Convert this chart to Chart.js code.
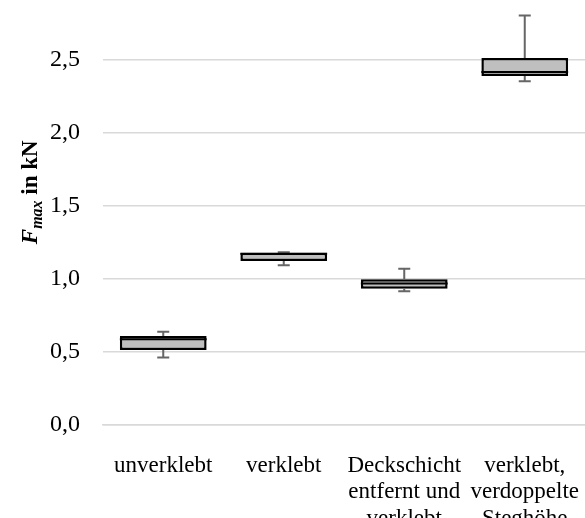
<!DOCTYPE html>
<html>
<head>
<meta charset="utf-8">
<script src="https://cdn.jsdelivr.net/npm/chart.js@4"></script>
<style>
  body { margin: 0; background: #fff; }
</style>
</head>
<body>
<canvas id="myChart" width="585" height="518"></canvas>
<script>
// box plot values
const categories = [
  "unverklebt",
  "verklebt",
  ["Deckschicht", "entfernt und", "verklebt"],
  ["verklebt,", "verdoppelte", "Steghöhe"],
];
const minValues = [0.46, 1.092, 0.914, 2.353];
const q1Values = [0.51, 1.12, 0.93, 2.389];
const medianValues = [0.584, 1.17, 0.967, 2.416];
const q3Values = [0.607, 1.177, 0.995, 2.512];
const maxValues = [0.636, 1.18, 1.067, 2.803];
const yTicks = [0, 0.5, 1.0, 1.5, 2.0, 2.5];

const boxes = q1Values.map((q1, i) => [q1, q3Values[i]]);

// whiskers + median line
const whiskerPlugin = {
  id: "whiskers",
  afterDatasetsDraw(chart) {
    const ctx = chart.ctx;
    const x = chart.scales.x;
    const y = chart.scales.y;
    const meta = chart.getDatasetMeta(0);
    ctx.save();
    minValues.forEach((mn, i) => {
      const cx = x.getPixelForValue(i);
      const w = meta.data[i].width;
      const cap = 6;
      ctx.strokeStyle = "#666666";
      ctx.lineWidth = 2;
      ctx.beginPath();
      ctx.moveTo(cx, y.getPixelForValue(q3Values[i]));
      ctx.lineTo(cx, y.getPixelForValue(maxValues[i]));
      ctx.moveTo(cx - cap, y.getPixelForValue(maxValues[i]));
      ctx.lineTo(cx + cap, y.getPixelForValue(maxValues[i]));
      ctx.moveTo(cx, y.getPixelForValue(q1Values[i]));
      ctx.lineTo(cx, y.getPixelForValue(mn));
      ctx.moveTo(cx - cap, y.getPixelForValue(mn));
      ctx.lineTo(cx + cap, y.getPixelForValue(mn));
      ctx.stroke();
      ctx.strokeStyle = "#000000";
      ctx.lineWidth = 2;
      ctx.beginPath();
      ctx.moveTo(cx - w / 2, y.getPixelForValue(medianValues[i]));
      ctx.lineTo(cx + w / 2, y.getPixelForValue(medianValues[i]));
      ctx.stroke();
    });
    ctx.restore();
  },
  afterDraw(chart) {
    // y axis title with subscript
    const ctx = chart.ctx;
    const cy = (chart.chartArea.top + chart.chartArea.bottom) / 2 - 20;
    ctx.save();
    ctx.translate(37, cy);
    ctx.rotate(-Math.PI / 2);
    ctx.fillStyle = "#000";
    ctx.textBaseline = "alphabetic";
    const parts = [
      { t: "F", f: "italic bold 23px 'Liberation Serif'", dy: 0 },
      { t: "max", f: "italic bold 16px 'Liberation Serif'", dy: 5 },
      { t: " in kN", f: "bold 23px 'Liberation Serif'", dy: 0 },
    ];
    let total = 0;
    parts.forEach((p) => {
      ctx.font = p.f;
      p.w = ctx.measureText(p.t).width;
      total += p.w;
    });
    let px = -total / 2;
    parts.forEach((p) => {
      ctx.font = p.f;
      ctx.fillText(p.t, px, p.dy);
      px += p.w;
    });
    ctx.restore();
  },
};

var ctx = document.getElementById("myChart").getContext("2d");
var myChart = new Chart(ctx, {
  type: "bar",
  data: {
    labels: categories,
    datasets: [
      {
        data: boxes,
        backgroundColor: "#bfbfbf",
        borderColor: "#000000",
        borderWidth: 2.5,
        borderSkipped: false,
        categoryPercentage: 1,
        barPercentage: 0.72,
      },
    ],
  },
  options: {
    responsive: false,
    animation: false,
    devicePixelRatio: 1,
    layout: { padding: 0 },
    plugins: {
      legend: { display: false },
      tooltip: { enabled: false },
    },
    scales: {
      x: {
        grid: { display: false, drawTicks: false },
        border: { display: true, color: "#d9d9d9", width: 1.5 },
        ticks: {
          color: "#000",
          padding: 28,
          maxRotation: 0,
          autoSkip: false,
          font: { family: "'Liberation Serif'", size: 23, lineHeight: 1.15 },
        },
        afterFit(scale) {
          scale.height = 93.5;
          scale.paddingLeft = 0;
          scale.paddingRight = 0;
        },
      },
      y: {
        min: 0,
        max: 2.91,
        grid: { color: "#d9d9d9", lineWidth: 1.5, drawTicks: false },
        border: { display: false },
        afterBuildTicks(scale) {
          scale.ticks = yTicks.map((v) => ({ value: v }));
        },
        ticks: {
          color: "#000",
          padding: 23,
          font: { family: "'Liberation Serif'", size: 24 },
          callback: (v) => v.toFixed(1).replace(".", ","),
        },
        afterFit(scale) {
          scale.width = 103;
          scale.paddingTop = 0;
          scale.paddingBottom = 0;
        },
      },
    },
  },
  plugins: [whiskerPlugin],
});
</script>
</body>
</html>
